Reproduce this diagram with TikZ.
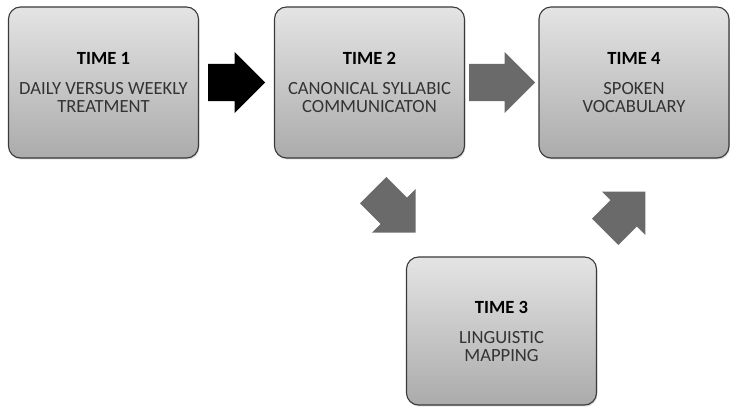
\documentclass[tikz,border=0pt]{standalone}
\usepackage{fontspec}
\setmainfont{Carlito}
\usetikzlibrary{shapes.arrows,shadows}
\definecolor{boxtop}{HTML}{E4E4E4}
\definecolor{boxbot}{HTML}{ABABAB}
\definecolor{boxline}{HTML}{3A3A3A}
\definecolor{arrgray}{HTML}{6A6A6A}
\definecolor{txt}{HTML}{333333}
\begin{document}
\begin{tikzpicture}[x=1pt,y=-1pt,
  timebox/.style={draw=boxline, line width=1.1pt, rounded corners=12pt,
    top color=boxtop, bottom color=boxbot, minimum width=190pt,
    minimum height=151pt, inner sep=0pt, align=center,
    font=\fontsize{18.6}{18}\selectfont, text=txt,
    drop shadow={opacity=0.35, shadow xshift=0.8pt, shadow yshift=-1.5pt}},
  blockarrow/.style={single arrow, single arrow head extend=12pt,
    inner xsep=0pt, inner ysep=18.5pt, draw=none, fill=#1, anchor=tail},
]
\useasboundingbox (0,0) rectangle (739,419);
\node[timebox] (t1) at (103.5,82.5)
  {{\bfseries\color{black}TIME 1}\\[12pt]DAILY VERSUS WEEKLY\\TREATMENT};
\node[timebox] (t2) at (369.5,82.5)
  {{\bfseries\color{black}TIME 2}\\[12pt]CANONICAL SYLLABIC\\COMMUNICATON};
\node[timebox] (t4) at (634,82.5)
  {{\bfseries\color{black}TIME 4}\\[12pt]SPOKEN\\VOCABULARY};
\node[timebox, minimum height=148pt] (t3) at (501.5,331)
  {{\bfseries\color{black}TIME 3}\\[12pt]LINGUISTIC\\MAPPING};
\node[blockarrow=black, minimum height=57pt] (a12) at (208,82.5) {};
\node[blockarrow=arrgray, minimum height=66pt] (a24) at (469,82.5) {};
\node[blockarrow=arrgray, minimum height=60pt, rotate=-45] (a23) at (373,190) {};
\node[blockarrow=arrgray, minimum height=57pt, rotate=45] (a34) at (605,232) {};
\end{tikzpicture}
\end{document}
